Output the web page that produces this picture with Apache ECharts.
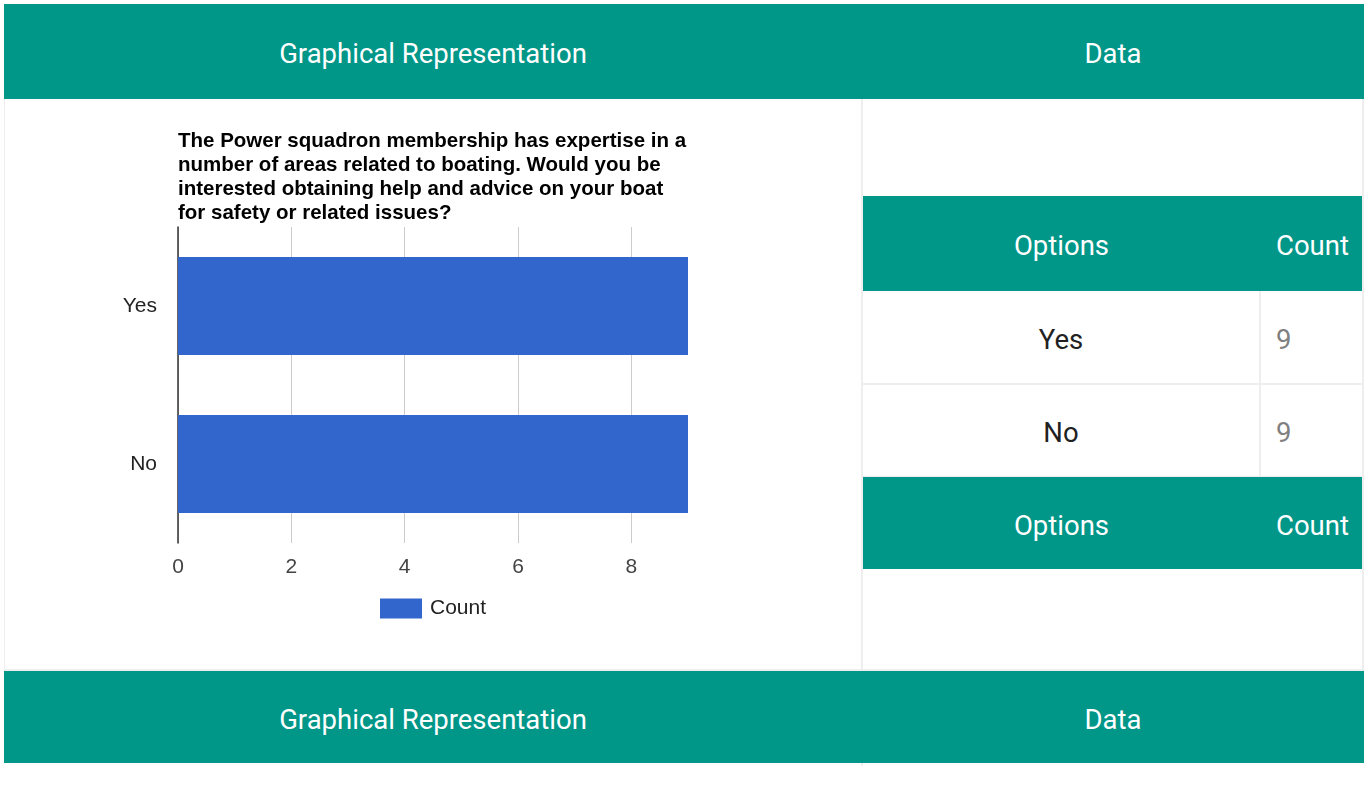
<!DOCTYPE html>
<html>
<head>
<meta charset="utf-8">
<script src="https://cdn.jsdelivr.net/npm/echarts@6/dist/echarts.min.js"></script>
<style>
  body { margin: 0; background: #fff; font-family: Roboto, sans-serif; }
  .abs { position: absolute; box-sizing: border-box; }
  .teal { background: #009688; color: #fff; font-size: 27.5px; display: flex; align-items: center; justify-content: center; padding-top: 4px; }
  .line { background: #eeeeee; }
  .cell { display: flex; align-items: center; font-size: 27.5px; padding-top: 4px; }
</style>
</head>
<body>
<!-- top header -->
<div class="abs teal" style="left:4px;top:4px;width:858px;height:95px;">Graphical Representation</div>
<div class="abs teal" style="left:862px;top:4px;width:502px;height:95px;">Data</div>

<!-- body borders -->
<div class="abs line" style="left:4px;top:99px;width:1px;height:572px;"></div>
<div class="abs line" style="left:861px;top:99px;width:2px;height:572px;"></div>
<div class="abs line" style="left:1362px;top:99px;width:2px;height:572px;"></div>
<div class="abs line" style="left:4px;top:669px;width:1360px;height:2px;"></div>

<!-- chart -->
<div id="chart" class="abs" style="left:5px;top:99px;width:856px;height:570px;"></div>

<!-- nested data table -->
<div class="abs teal" style="left:863px;top:196px;width:397px;height:95px;">Options</div>
<div class="abs teal" style="left:1260px;top:196px;width:102px;height:95px;justify-content:flex-start;padding-left:16px;">Count</div>
<div id="rows"></div>
<div class="abs teal" style="left:863px;top:477px;width:397px;height:92px;">Options</div>
<div class="abs teal" style="left:1260px;top:477px;width:102px;height:92px;justify-content:flex-start;padding-left:16px;">Count</div>

<!-- bottom header -->
<div class="abs teal" style="left:4px;top:671px;width:858px;height:92px;">Graphical Representation</div>
<div class="abs teal" style="left:862px;top:671px;width:502px;height:92px;">Data</div>
<div class="abs line" style="left:861px;top:763px;width:2px;height:3px;"></div>

<script>
var titleText = 'The Power squadron membership has expertise in a\nnumber of areas related to boating. Would you be\ninterested obtaining help and advice on your boat\nfor safety or related issues?';
var categories = ['Yes', 'No'];
var counts = [9, 9];
var seriesName = 'Count';

// data table rows
var rowsHtml = '';
for (var i = 0; i < categories.length; i++) {
    var rowTop = 291 + i * 93;
    rowsHtml += '<div class="abs cell" style="left:863px;top:' + rowTop + 'px;width:396px;height:92px;justify-content:center;color:#212121;">' + categories[i] + '</div>';
    rowsHtml += '<div class="abs line" style="left:1259px;top:' + rowTop + 'px;width:2px;height:93px;"></div>';
    rowsHtml += '<div class="abs cell" style="left:1261px;top:' + rowTop + 'px;width:101px;height:92px;padding-left:15px;color:#808080;">' + counts[i] + '</div>';
    rowsHtml += '<div class="abs line" style="left:863px;top:' + (rowTop + 92) + 'px;width:499px;height:2px;"></div>';
}
document.getElementById('rows').innerHTML = rowsHtml;

var myChart = echarts.init(document.getElementById('chart'));
var option = {
    animation: false,
    title: {
        text: titleText,
        left: 173,
        top: 30,
        padding: 0,
        textStyle: {
            fontFamily: 'Liberation Sans',
            fontSize: 20.5,
            fontWeight: 'bold',
            color: '#000',
            lineHeight: 24
        }
    },
    legend: {
        left: 375,
        top: 499,
        padding: 0,
        itemWidth: 42,
        itemHeight: 20,
        icon: 'rect',
        textStyle: {
            fontFamily: 'Liberation Sans',
            fontSize: 21,
            color: '#222',
            padding: [2, 0, 0, 3]
        },
        data: [seriesName]
    },
    grid: {
        left: 173,
        top: 128,
        width: 510,
        height: 316,
        containLabel: false
    },
    xAxis: {
        type: 'value',
        min: 0,
        max: 9,
        interval: 2,
        axisLine: { show: false },
        axisTick: { show: false },
        axisLabel: {
            showMaxLabel: false,
            margin: 14,
            fontFamily: 'Liberation Sans',
            fontSize: 21,
            color: '#444'
        },
        splitLine: {
            showMaxLine: false,
            lineStyle: { color: '#cccccc', width: 1 }
        }
    },
    yAxis: {
        type: 'category',
        inverse: true,
        data: categories,
        axisLine: { show: true, lineStyle: { color: '#333', width: 1.5 } },
        axisTick: { show: false },
        axisLabel: {
            margin: 21,
            fontFamily: 'Liberation Sans',
            fontSize: 21,
            color: '#222',
            padding: [2, 0, 0, 0]
        }
    },
    series: [
        {
            name: seriesName,
            type: 'bar',
            data: counts,
            barCategoryGap: '38%',
            itemStyle: { color: '#3366cc' }
        }
    ]
};
myChart.setOption(option);
</script>
</body>
</html>
